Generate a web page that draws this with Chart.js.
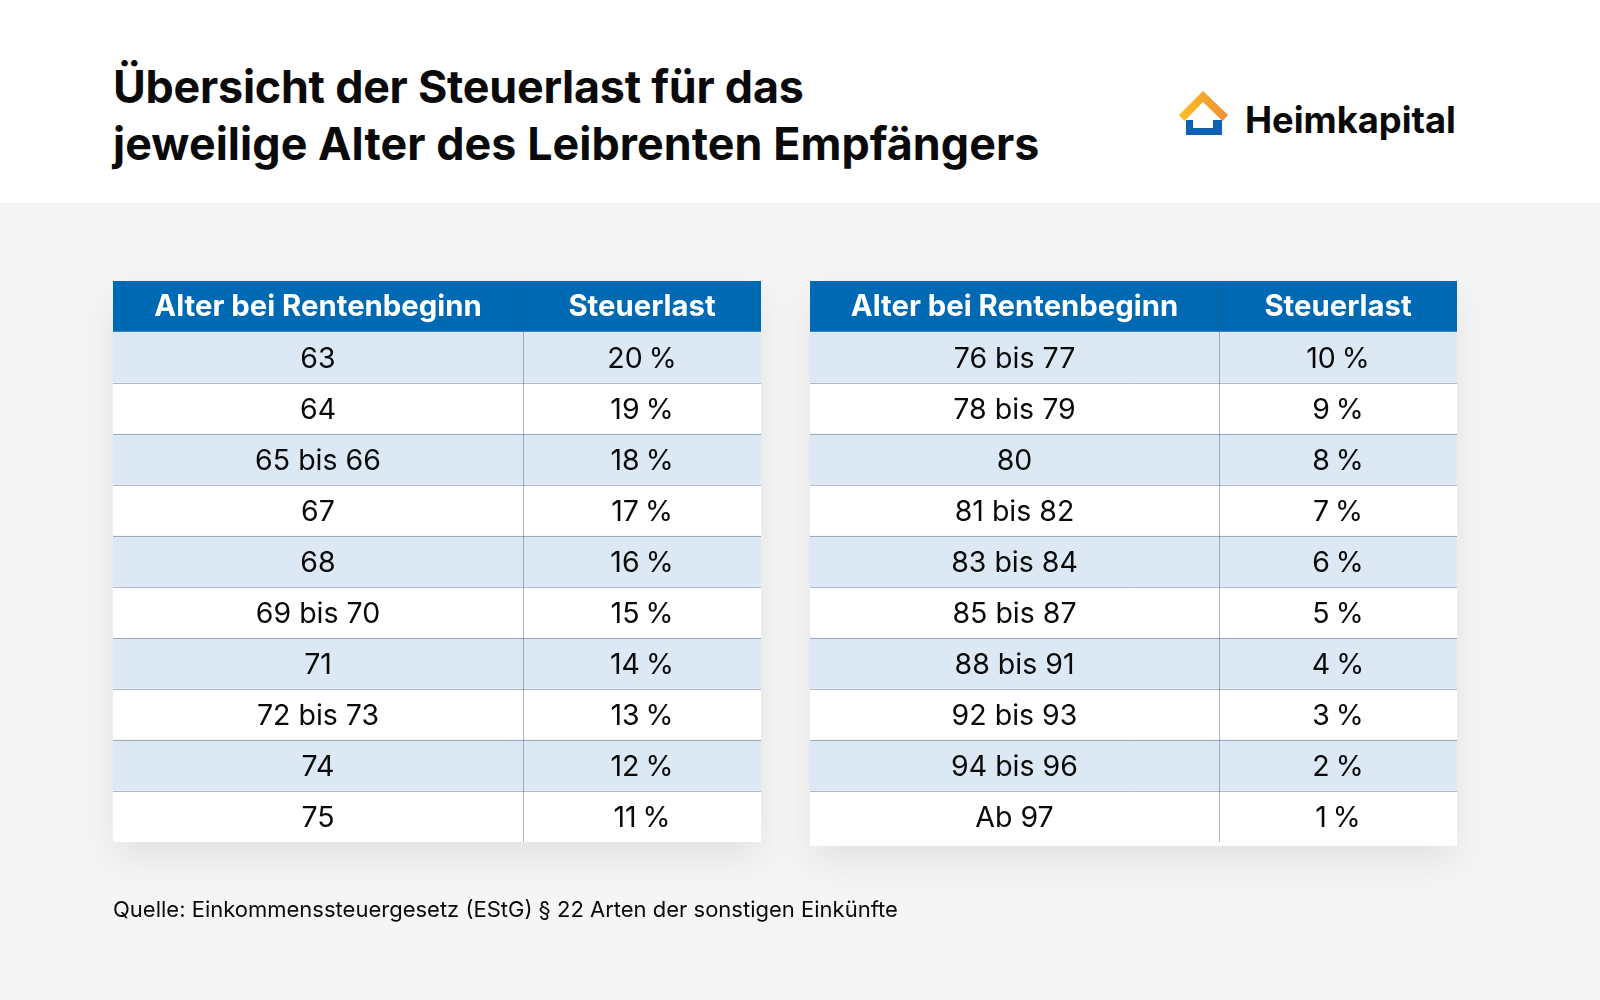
<!DOCTYPE html>
<html lang="de"><head><meta charset="utf-8">
<script src="https://cdn.jsdelivr.net/npm/chart.js@4"></script>
<style>
html,body{margin:0;padding:0;background:#fff}
#page{position:relative;width:1600px;height:1000px;overflow:hidden;background:#fff;font-family:Inter,sans-serif;color:#0a0a0a}
#band{position:absolute;left:0;top:203px;width:1600px;height:797px;background:#f5f5f5}
.t{position:absolute;white-space:nowrap;line-height:1}
#title1,#title2{left:113px;font-size:44.8px;font-weight:700}
#title1{top:65px;letter-spacing:-.23px}#title2{top:122px;letter-spacing:.07px}
#brand{left:1245px;top:102px;font-size:36.3px;font-weight:700}
#source{left:113px;top:898px;font-size:22px;font-weight:400}
.box{position:absolute;background:#fff;box-shadow:0 16px 36px rgba(0,0,0,.08)}
canvas{display:block}
#logo{position:absolute;left:1170px;top:80px}
</style></head><body>
<div id="page">
<div id="band"></div>
<div class="t" id="title1">Übersicht der Steuerlast für das</div>
<div class="t" id="title2">jeweilige Alter des Leibrenten Empfängers</div>
<svg id="logo" width="70" height="65" viewBox="0 0 70 65">
<defs><linearGradient id="g" x1="0" x2="1"><stop offset="0" stop-color="#fbbf22"/><stop offset="1" stop-color="#ee8f35"/></linearGradient></defs>
<path d="M9 35 L33 11 L58 35 L52.500 41 L33 22 L14.500 41 Z" fill="url(#g)"/>
<path d="M16 40 H23 V48 H43 V40 H52 V55 H16 Z" fill="#0d62b3"/>
</svg>
<div class="t" id="brand">Heimkapital</div>
<div class="box" style="left:113px;top:281px;width:648px;height:561px"><canvas id="left" width="648" height="561"></canvas></div>
<div class="box" style="left:810px;top:281px;width:647px;height:565px"><canvas id="right" width="647" height="561"></canvas></div>
<div class="t" id="source">Quelle: Einkommenssteuergesetz (EStG) § 22 Arten der sonstigen Einkünfte</div>
</div>
<script>
const headers = ["Alter bei Rentenbeginn", "Steuerlast"];
const leftAges = ["63", "64", "65 bis 66", "67", "68", "69 bis 70", "71", "72 bis 73", "74", "75"];
const leftTax = [20, 19, 18, 17, 16, 15, 14, 13, 12, 11];
const rightAges = ["76 bis 77", "78 bis 79", "80", "81 bis 82", "83 bis 84", "85 bis 87", "88 bis 91", "92 bis 93", "94 bis 96", "Ab 97"];
const rightTax = [10, 9, 8, 7, 6, 5, 4, 3, 2, 1];

const BLUE = "#0069b4", LIGHT = "#dce8f4", WHITE = "#ffffff", LINE = "rgba(60,85,110,.42)";

function rowColor(i){ return i === 0 ? BLUE : (i % 2 === 1 ? LIGHT : WHITE); }

const cellText = {
  id: "cellText",
  afterDatasetsDraw(chart, args, opts){
    const {ctx, scales:{x, y}} = chart;
    const cx = [x.getPixelForValue(opts.split / 2), x.getPixelForValue((opts.split + x.max) / 2)];
    ctx.save();
    ctx.textAlign = "center";
    ctx.textBaseline = "alphabetic";
    chart.data.labels.forEach((label, i) => {
      const head = i === 0;
      const py = y.getPixelForValue(i) + (head ? 9.5 : 10.5);
      ctx.font = (head ? "700 29.3px " : "400 28.5px ") + "Inter, sans-serif";
      ctx.fillStyle = head ? "#ffffff" : "#0a0a0a";
      ctx.wordSpacing = "0px";
      ctx.fillText(label, cx[0], py);
      if (!head) ctx.wordSpacing = "-2px";
      ctx.fillText(head ? headers[1] : opts.tax[i - 1] + " %", cx[1], py);
    });
    ctx.restore();
  }
};

function table(id, ages, tax, split){
  const labels = [headers[0], ...ages];
  new Chart(document.getElementById(id), {
    type: "bar",
    plugins: [cellText],
    data: { labels, datasets: [{
      label: headers[1],
      data: labels.map(() => 1),
      backgroundColor: labels.map((_, i) => rowColor(i)),
      barPercentage: 1, categoryPercentage: 1, borderWidth: 0
    }]},
    options: {
      indexAxis: "y", responsive: false, animation: false, devicePixelRatio: 1,
      layout: { padding: 0 },
      plugins: { legend: {display:false}, tooltip: {enabled:false}, title: {display:false}, cellText: {tax, split} },
      scales: {
        x: { type:"linear", min:0, max:1, position:"top", display:true,
             afterBuildTicks: a => { a.ticks = [{value: split}]; },
             afterFit: a => { a.height = 0; },
             ticks: {display:false}, border: {display:false},
             grid: {z:1, color: LINE, lineWidth: 1, drawTicks:false} },
        y: { type:"category", display:true,
             afterFit: a => { a.width = 0; },
             ticks: {display:false}, border: {display:false},
             grid: {z:1, offset:true, drawTicks:false, lineWidth:1,
                    color: c => (c.index === 0 || c.index >= labels.length) ? "rgba(0,0,0,0)" : (c.index === 1 ? "rgba(0,0,0,0)" : LINE)} }
      }
    }
  });
}
table("left", leftAges, leftTax, 410/648);
table("right", rightAges, rightTax, 409/647);
</script>
</body></html>
